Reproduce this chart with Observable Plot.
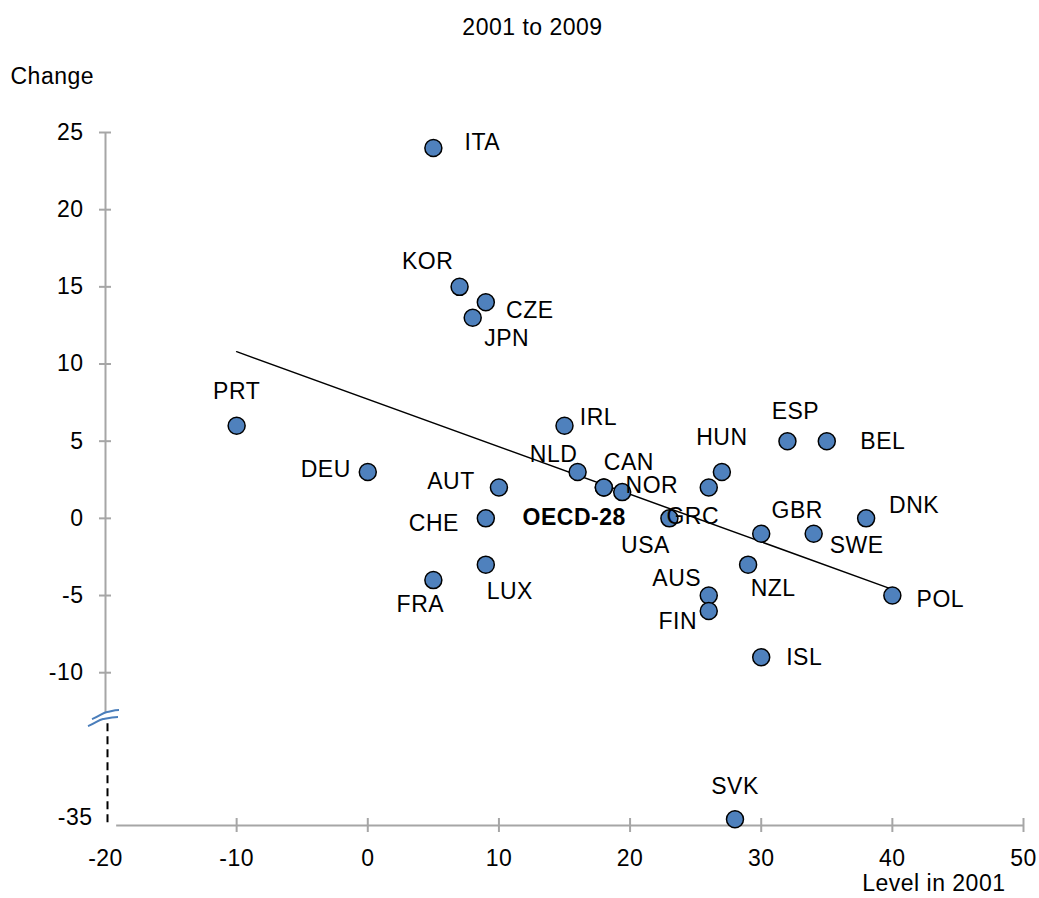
<!DOCTYPE html>
<html><head><meta charset="utf-8">
<script src="https://cdn.jsdelivr.net/npm/d3@7"></script>
<script src="https://cdn.jsdelivr.net/npm/@observablehq/plot@0.6"></script>
<style>body{margin:0;background:#fff} svg{display:block}</style>
</head><body><div id="chart"></div>
<script>
// ---- data ----
const countries = ["ITA","KOR","CZE","JPN","PRT","IRL","ESP","BEL","DEU","NLD","HUN","AUT","CAN","NOR","GRC","CHE","OECD-28","USA","DNK","GBR","SWE","FRA","LUX","NZL","AUS","FIN","POL","ISL","SVK"];
const level2001 = [5,7,9,8,-10,15,32,35,0,16,27,10,18,18,26,9,19.4,23,38,30,34,5,9,29,26,26,40,30,28];
const change2001to2009 = [24,15,14,13,6,6,5,5,3,3,3,2,2,2,2,0,1.7,0,0,-1,-1,-4,-3,-3,-5,-6,-5,-9,-35];
const trendX = [-10, 40];
const trendY = [10.8, -4.6];
const xTicks = [-20,-10,0,10,20,30,40,50];
const yTicks = [25,20,15,10,5,0,-5,-10];
const yBrokenTicks = [-35];

// ---- layout (label offsets in px, [dx, dy]) ----
const labelOffsets = {
  "ITA":[49,-5],"KOR":[-32,-25],"CZE":[44,8],"JPN":[34,21],"PRT":[0,-34],"IRL":[34,-8],
  "ESP":[8,-30],"BEL":[56,0],"DEU":[-42,-2],"NLD":[-24,-17],"HUN":[0,-34],"AUT":[-48,-6],
  "CAN":[25,-25],"NOR":[48,-2],"GRC":[-16,29],"CHE":[-52,5],"OECD-28":[-48,26],"USA":[-24,27],
  "DNK":[48,-13],"GBR":[36,-23],"SWE":[43,12],"FRA":[-13,25],"LUX":[24,27],"NZL":[25,24],
  "AUS":[-32,-17],"FIN":[-31,11],"POL":[48,4],"ISL":[43,0],"SVK":[0,-33]
};
const BREAK_SHIFT = 15.5;             // values below the break are moved up by this
const disp = v => v < -15 ? v + BREAK_SHIFT : v;
const yBottom = -19.9, yTop = 25;
const breakTop = -12.65, breakBottom = -13.3;

const data = countries.map((c, i) => ({country: c, x: level2001[i], y: change2001to2009[i]}));
const trend = trendX.map((x, i) => ({x, y: trendY[i]}));

const grey = "#a6a6a6";
const blue = "#4f81bd";

// break symbol (custom mark)
function breakMark(index, scales) {
  const x0 = scales.x(-20), y0 = scales.y(breakTop);
  const g = d3.create("svg:g").attr("fill", "none").attr("stroke", "#4a7ebb").attr("stroke-width", 2);
  g.append("path").attr("d", `M${x0-13},${y0+6} C${x0-5},${y0+3} ${x0-3},${y0} ${x0+2},${y0-1} S${x0+9},${y0-3} ${x0+14},${y0-3}`);
  g.append("path").attr("d", `M${x0-17},${y0+13} C${x0-9},${y0+10} ${x0-7},${y0+7} ${x0-2},${y0+6} S${x0+7},${y0+4} ${x0+13},${y0+4}`);
  return g.node();
}

const labelMarks = data.map(d => Plot.text([d], {
  x: "x", y: r => disp(r.y), text: "country",
  dx: labelOffsets[d.country][0], dy: labelOffsets[d.country][1],
  fontWeight: d.country === "OECD-28" ? "bold" : "normal", fill: "#000"
}));

const chart = Plot.plot({
  width: 1039, height: 898,
  marginLeft: 105, marginRight: 16, marginTop: 132, marginBottom: 73,
  style: {fontFamily: "'Liberation Sans', Arial, sans-serif", fontSize: "23px", letterSpacing: "0.5px", background: "#fff", color: "#000"},
  x: {domain: [-20, 50], axis: null},
  y: {domain: [yBottom, yTop], axis: null},
  marks: [
    // axes lines
    Plot.ruleX([-20], {y1: yTop, y2: breakTop, stroke: grey, strokeWidth: 2}),
    Plot.ruleX([-20], {y1: breakBottom, y2: yBottom - 0.15, stroke: "#000", strokeWidth: 2, strokeDasharray: "8,5", dx: 2}),
    Plot.ruleY([yBottom], {x1: -19.15, x2: 50, stroke: grey, strokeWidth: 2}),
    // ticks
    Plot.ruleY(yTicks, {y: d => d, x1: -20, x2: -20, insetLeft: -6, insetRight: -6, stroke: grey, strokeWidth: 2}),
    Plot.ruleX(xTicks.slice(1), {x: d => d, y1: yBottom, y2: yBottom, insetTop: -7, insetBottom: -7, stroke: grey, strokeWidth: 2}),
    breakMark,
    // tick labels
    Plot.text(yTicks, {x: -20, y: d => d, text: d => String(d), textAnchor: "end", dx: -22, fill: "#000"}),
    Plot.text(yBrokenTicks, {x: -20, y: d => disp(d), text: d => String(d), textAnchor: "end", dx: -13, dy: -2, fill: "#000"}),
    Plot.text(xTicks, {x: d => d, y: yBottom, text: d => String(d), dy: 33, fill: "#000"}),
    // titles
    Plot.text(["2001 to 2009"], {frameAnchor: "top-left", textAnchor: "middle", lineAnchor: "middle", dx: 427, dy: -105, fill: "#000"}),
    Plot.text(["Change"], {frameAnchor: "top-left", textAnchor: "start", lineAnchor: "middle", dx: -95, dy: -56, fill: "#000"}),
    Plot.text(["Level in 2001"], {frameAnchor: "bottom-right", textAnchor: "end", lineAnchor: "middle", dx: -18, dy: 58, fill: "#000"}),
    // trend line
    Plot.line(trend, {x: "x", y: "y", stroke: "#000", strokeWidth: 1.5}),
    // points
    Plot.dot(data, {x: "x", y: d => disp(d.y), r: 8.5, fill: blue, stroke: "#000", strokeWidth: 1.5}),
    ...labelMarks
  ]
});
document.getElementById("chart").appendChild(chart);
</script>
</body></html>
